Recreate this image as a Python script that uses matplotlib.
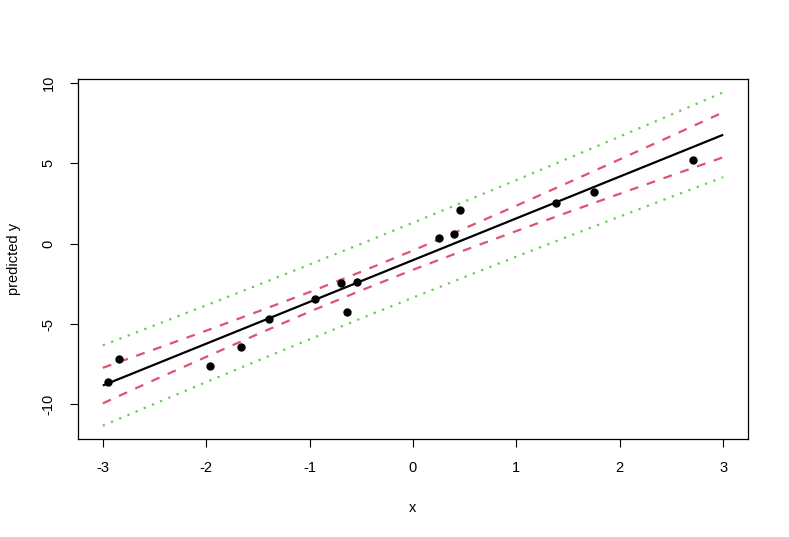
import numpy as np
import matplotlib.pyplot as plt

plt.rcParams['font.family'] = ['Liberation Sans', 'DejaVu Sans']
plt.rcParams['axes.unicode_minus'] = False

# observed data
x_obs = [-2.95, -2.84, -1.96, -1.66, -1.39, -0.945, -0.70, -0.635, -0.54,
         0.247, 0.40, 0.45, 1.38, 1.75, 2.71]
y_obs = [-8.58, -7.16, -7.59, -6.42, -4.69, -3.46, -2.47, -4.26, -2.41,
         0.37, 0.62, 2.10, 2.53, 3.21, 5.19]

# predictions on a grid
x_new = [-3, -2.5, -2, -1.5, -1, -0.5, 0, 0.5, 1, 1.5, 2, 2.5, 3]
fit = [-8.82, -7.52, -6.22, -4.92, -3.62, -2.32, -1.02, 0.28, 1.58, 2.88, 4.18, 5.48, 6.78]
conf_lwr = [-9.93, -8.47, -7.04, -5.62, -4.23, -2.90, -1.62, -0.40, 0.79, 1.96, 3.11, 4.25, 5.38]
conf_upr = [-7.72, -6.57, -5.41, -4.22, -3.01, -1.74, -0.42, 0.96, 2.37, 3.80, 5.25, 6.71, 8.18]
pred_lwr = [-11.32, -9.96, -8.61, -7.27, -5.95, -4.64, -3.35, -2.07, -0.80, 0.45, 1.69, 2.92, 4.14]
pred_upr = [-6.32, -5.08, -3.83, -2.57, -1.29, 0.00, 1.31, 2.63, 3.96, 5.31, 6.67, 8.04, 9.42]

fig = plt.figure(figsize=(7.89, 5.37), dpi=100)
ax = fig.add_axes([78/789, 1-439/537, 670/789, 360/537])

red = '#DF536B'
green = '#61D04F'
ax.plot(x_new, fit, color='black', lw=1.6, solid_capstyle='butt')
ax.plot(x_new, conf_lwr, color=red, lw=1.6, linestyle=(0, (4, 4)))
ax.plot(x_new, conf_upr, color=red, lw=1.6, linestyle=(0, (4, 4)))
ax.plot(x_new, pred_lwr, color=green, lw=1.6, linestyle=(0, (1, 3)))
ax.plot(x_new, pred_upr, color=green, lw=1.6, linestyle=(0, (1, 3)))
ax.plot(x_obs, y_obs, 'o', color='black', markersize=5)

ax.set_xlim(-3.24, 3.24)
ax.set_ylim(-12.15, 10.25)
ax.set_xticks([-3, -2, -1, 0, 1, 2, 3])
ax.set_yticks([-10, -5, 0, 5, 10])
ax.tick_params(direction='out', length=6, width=0.8, labelsize=10.5)
ax.tick_params(axis='x', pad=9.5)
ax.tick_params(axis='y', pad=10)
for lab in ax.get_yticklabels():
    lab.set_rotation(90)
    lab.set_va('center')
for s in ax.spines.values():
    s.set_linewidth(0.9)

ax.set_xlabel('x', fontsize=10.5, va='center')
ax.set_ylabel('predicted y', fontsize=10.5, va='center')
ax.xaxis.set_label_coords(0.5, (439 - 508) / 360)
ax.yaxis.set_label_coords((14 - 78) / 670, 0.5)

fig.savefig('out.png', dpi=100)
